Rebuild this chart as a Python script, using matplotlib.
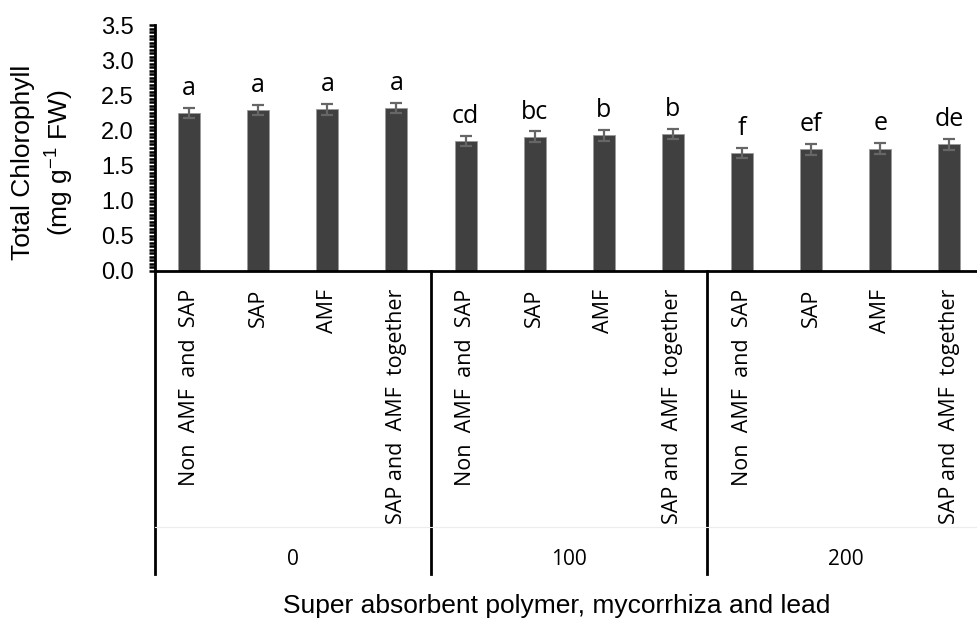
import matplotlib.pyplot as plt
from matplotlib.transforms import blended_transform_factory
from matplotlib.ticker import MultipleLocator

treatments = ["Non  AMF  and  SAP", "SAP", "AMF", "SAP and  AMF  together"] * 3
groups = ["0", "100", "200"]
chlorophyll = [2.25, 2.29, 2.30, 2.32, 1.85, 1.91, 1.93, 1.95, 1.68, 1.73, 1.74, 1.80]
errors = [0.075] * 12
letters = ["a", "a", "a", "a", "cd", "bc", "b", "b", "f", "ef", "e", "de"]

label_font = "Open Sans"
arial = "Liberation Sans"

fig = plt.figure(figsize=(9.77, 6.21), dpi=100)
ax = fig.add_axes([154.5 / 977, 1 - 271 / 621, 829.5 / 977, 246 / 621])

x = list(range(len(chlorophyll)))
ax.bar(x, chlorophyll, width=0.32, color="#404040", edgecolor="#9a9a9a", linewidth=0.6, zorder=2)
ax.errorbar(x, chlorophyll, yerr=errors, fmt="none", ecolor="#666666",
            elinewidth=1.6, capsize=4.5, capthick=1.6, zorder=3)

# Significance letters above the error bars.
for xi, v, e, t in zip(x, chlorophyll, errors, letters):
    ax.annotate(t, (xi, v + e), xytext=(0, 5), textcoords="offset points",
                ha="center", va="bottom", fontsize=18, family=label_font)

ax.set_xlim(-0.5, 11.5)
ax.set_ylim(0, 3.5)
ax.yaxis.set_major_locator(MultipleLocator(0.5))
ax.yaxis.set_minor_locator(MultipleLocator(0.05))
ax.yaxis.set_major_formatter(plt.FormatStrFormatter("%.1f"))
ax.tick_params(axis="y", which="both", direction="out", length=4, width=1.8,
               labelsize=17, pad=11)
for lbl in ax.get_yticklabels():
    lbl.set_family(arial)

ax.set_xticks(x)
ax.set_xticklabels(treatments, rotation=90, va="top", ha="center",
                   fontsize=15.5, family=label_font)
ax.tick_params(axis="x", length=0, pad=13)

for side in ("top", "right"):
    ax.spines[side].set_visible(False)
for side in ("left", "bottom"):
    ax.spines[side].set_linewidth(2)
    ax.spines[side].set_color("black")

# Group separators and group labels below the axis.
trans = blended_transform_factory(ax.transData, ax.transAxes)
bottom = (271 - 574) / 246
for xs in (-0.5, 3.5, 7.5, 11.5):
    ax.plot([xs, xs], [0, bottom], color="black", lw=2, transform=trans, clip_on=False)
ax.plot([-0.5, 11.5], [(271 - 527) / 246] * 2, color="#ececec", lw=0.8,
        transform=trans, clip_on=False)
for gi, g in enumerate(groups):
    ax.text(gi * 4 + 1.5, (271 - 560) / 246, g, ha="center", va="center",
            fontsize=15, family=label_font, transform=trans)

fig.text(557 / 977, 1 - 606 / 621, "Super absorbent polymer, mycorrhiza and lead",
         ha="center", va="center", fontsize=19, family=arial)
fig.text(43 / 977, 1 - 162 / 621, "Total Chlorophyll\n(mg g$^{\\mathregular{-1}}$ FW)",
         ha="center", va="center", rotation=90, fontsize=19, family=arial,
         linespacing=1.3)

fig.savefig("out.png", dpi=100)
